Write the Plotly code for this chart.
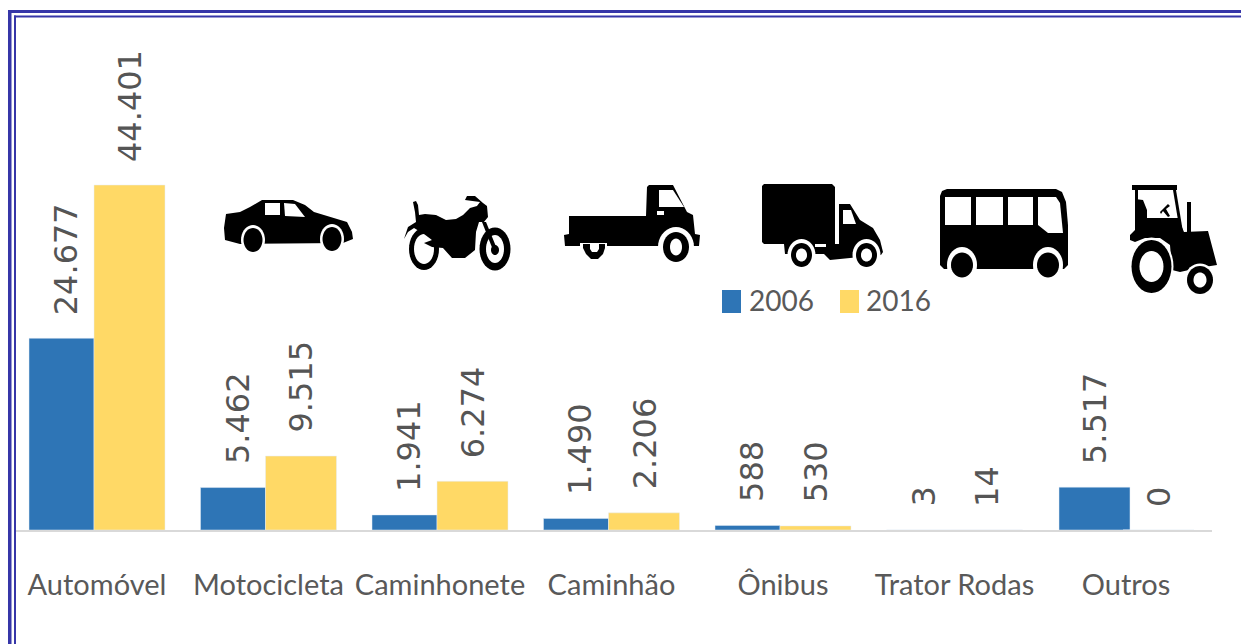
import math
import re
import plotly.graph_objects as go

categories = ["Automóvel", "Motocicleta", "Caminhonete", "Caminhão", "Ônibus", "Trator Rodas", "Outros"]
values_2006 = [24677, 5462, 1941, 1490, 588, 3, 5517]
values_2016 = [44401, 9515, 6274, 2206, 530, 14, 0]

BLUE = "#2E75B6"
YELLOW = "#FFD966"
GREY = "#595959"
FRAME = "#3636A8"
W, H = 1241, 644
L, R, T, B = 16, 1212, 20, 530
BAND = 171.5
C0 = 97
PX_PER_UNIT = 128.7

x0 = (L - C0) / BAND
x1 = (R - C0) / BAND
n = len(categories)

fig = go.Figure()
fig.add_bar(
    name="2006", x=categories, y=values_2006, marker_color=BLUE,
    offset=[-68 / BAND] * (n - 1) + [-67 / BAND],
    width=[65 / BAND] * (n - 1) + [71 / BAND],
    showlegend=False,
)
fig.add_bar(
    name="2016", x=categories, y=values_2016, marker_color=YELLOW,
    offset=-3 / BAND, width=71 / BAND, showlegend=False,
)


def fmt(v):
    return f"{v:,}".replace(",", ".")


annotations = []
for cat, a, b in zip(categories, values_2006, values_2016):
    for val, dx in ((a, -31), (b, 33)):
        annotations.append(dict(
            x=cat, y=val, xref="x", yref="y", text=fmt(val), textangle=-90, showarrow=False,
            xanchor="center", yanchor="bottom", xshift=dx, yshift=21,
            font=dict(family="DejaVu Sans", size=32, color="#555555"),
        ))


def px(x):
    return (x - L) / (R - L)


def py(y):
    return (B - y) / (B - T)


def conv(path):
    toks = re.findall(r"[MLZ]|-?\d+\.?\d*", path)
    out, i = [], 0
    while i < len(toks):
        t = toks[i]
        if t in "ML":
            out.append(t)
            i += 1
        elif t == "Z":
            out.append("Z")
            i += 1
        else:
            out.append(f"{px(float(toks[i])):.5f},{py(float(toks[i + 1])):.5f}")
            i += 2
    return " ".join(out)


shapes = []


def poly(path, color="black"):
    shapes.append(dict(type="path", xref="paper", yref="paper", path=conv(path), fillcolor=color,
                       line=dict(width=0), layer="above"))


def pts(points):
    return "M " + " L ".join(f"{x},{y}" for x, y in points) + " Z"


def ell(cx, cy, rx, ry, color="black", a0=0, a1=360):
    p = []
    for k in range(37):
        t = math.radians(a0 + (a1 - a0) * k / 36)
        p.append((round(cx + rx * math.cos(t), 2), round(cy + ry * math.sin(t), 2)))
    poly(pts(p), color)


def rect(x0_, y0_, x1_, y1_, color="black"):
    poly(pts([(x0_, y0_), (x1_, y0_), (x1_, y1_), (x0_, y1_)]), color)


def wheel(cx, cy, rx, ry, ax, ay, irx=0, iry=0):
    ell(cx, cy, ax, ay, "white")
    ell(cx, cy, rx, ry)
    if irx:
        ell(cx, cy, irx, iry, "white")


# car
poly(pts([(226, 214), (240, 212), (250, 207), (262, 200), (293, 200), (305, 205), (314, 212), (347, 222),
          (352, 232), (353, 239), (343, 243), (240, 244), (225, 240), (224, 228)]))
wheel(253, 240, 9.5, 12, 12, 15)
wheel(332, 239, 9.5, 12, 12, 15)
rect(265, 203, 280, 215, "white")
poly(pts([(284, 203), (295, 204), (305, 217), (285, 216)]), "white")

# motorcycle
wheel(424, 249, 15, 21, 15, 21, 10, 15)
wheel(495, 249, 15.5, 21.5, 15.5, 21.5, 9, 14)
ell(495, 250, 4, 5)
poly(pts([(404, 239), (408, 227), (416, 222), (415, 212), (413, 202), (416, 201), (418, 205), (419, 215),
          (425, 214), (436, 215), (446, 220), (456, 219), (463, 215), (470, 208), (477, 206), (480, 202),
          (465, 200), (467, 196), (475, 196), (483, 203), (487, 206), (488, 217), (484, 222), (479, 222),
          (476, 232), (475, 250), (465, 258), (452, 258), (443, 248), (432, 247), (424, 243), (432, 240),
          (424, 234), (414, 228), (408, 232)]))
poly(pts([(482, 222), (486, 222), (497, 249), (493, 250)]))

# pickup
poly(pts([(569, 216), (646, 216), (647, 187), (649, 185), (673, 185), (687, 212), (693, 215), (695, 234),
          (700, 235), (699, 246), (565, 246), (564, 235), (569, 234)]))
poly(pts([(659, 190), (673, 190), (684, 207), (659, 207)]), "white")
rect(657, 211, 664, 215, "white")
wheel(676, 247, 13, 15, 18, 20, 6, 8.5)
rect(580, 243, 607, 249, "white")
poly(pts([(583, 244), (605, 244), (605, 248), (603, 254), (598, 259), (591, 259), (586, 254), (583, 248)]))
poly(pts([(590, 244), (599, 244), (599, 249), (597, 252), (592, 252), (590, 249)]), "white")

# truck
poly(pts([(762, 186), (764, 184), (832, 184), (835, 187), (835, 244), (764, 244), (762, 242)]))
poly(pts([(839, 204), (850, 204), (860, 220), (873, 228), (880, 240), (883, 252), (881, 255), (850, 258),
          (830, 260), (824, 254), (785, 254), (784, 244), (839, 244)]))
poly(pts([(843, 210), (851, 210), (856, 224), (843, 224)]), "white")
rect(815, 244, 826, 247, "white")
wheel(801.5, 255, 10.5, 12, 14, 16, 5.5, 6.5)
wheel(866.5, 255, 10.5, 12, 14, 16, 5.5, 6.5)

# bus
poly(pts([(947, 189), (1056, 189), (1062, 192), (1066, 202), (1068, 225), (1068, 265), (1064, 269), (944, 269),
          (940, 265), (940, 196), (942, 191)]))
rect(945, 197, 971, 225, "white")
rect(976, 197, 1003, 225, "white")
rect(1008, 197, 1033, 225, "white")
poly(pts([(1038, 197), (1056, 197), (1060, 203), (1063, 233), (1048, 233), (1038, 225)]), "white")
wheel(962, 265, 11, 12.5, 15, 18)
wheel(1048, 265, 11, 12.5, 15, 18)

# tractor
rect(1132, 185, 1177, 190)
rect(1135, 190, 1138, 204)
poly(pts([(1173, 190), (1176, 190), (1183, 232), (1180, 232)]))
rect(1187, 202, 1191, 233)
poly(pts([(1135, 199), (1143, 200), (1147, 210), (1147, 218), (1178, 218), (1184, 232), (1208, 231), (1217, 265),
          (1198, 268), (1180, 272), (1172, 270), (1170, 245), (1160, 238), (1145, 238), (1135, 242), (1130, 240),
          (1130, 235), (1135, 230)]))
poly(pts([(1160, 212), (1168, 204), (1170, 206), (1166, 209), (1170, 216), (1168, 217), (1163, 211), (1161, 214)]))
ell(1151.5, 266.5, 22, 29, "white")
ell(1151.5, 266.5, 20, 26.5)
ell(1151.5, 266.5, 12, 15.5, "white")
wheel(1200, 280, 13, 14, 15.5, 16.5, 6.5, 7.5)

# legend swatches
rect(722, 290, 741, 313, BLUE)
rect(840, 290, 859, 313, YELLOW)
for label, cx in (("2006", 781.5), ("2016", 898.5)):
    annotations.append(dict(
        x=px(cx), y=py(300), xref="paper", yref="paper", text=label, showarrow=False,
        xanchor="center", yanchor="middle",
        font=dict(family="Lato", size=28, color=GREY),
    ))

# frame
rect(8, 10, 11.5, 644, FRAME)
rect(8, 10, 1241, 13, FRAME)
rect(14, 15.5, 16, 644, FRAME)
rect(14, 15.5, 1241, 17.5, FRAME)

fig.update_layout(
    width=W, height=H, autosize=False,
    margin=dict(l=L, r=W - R, t=T, b=H - B, pad=0, autoexpand=False),
    paper_bgcolor="white", plot_bgcolor="white",
    barmode="overlay", showlegend=False,
    annotations=annotations, shapes=shapes,
    xaxis=dict(
        type="category", categoryorder="array", categoryarray=categories,
        range=[x0, x1], showline=True, linecolor="#D9D9D9", linewidth=2, showgrid=False, ticks="",
        ticklabelstandoff=28, tickangle=0, automargin=False,
        tickfont=dict(family="Lato", size=29, color=GREY),
    ),
    yaxis=dict(range=[0, (B - T) * PX_PER_UNIT], visible=False),
)

fig.write_html("out.html", config={"displayModeBar": False},
               post_script="document.body.style.margin='0';")
